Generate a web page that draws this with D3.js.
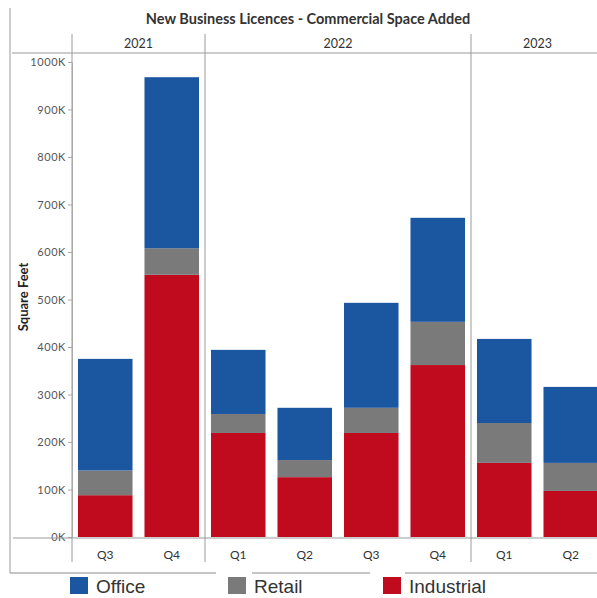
<!DOCTYPE html>
<html>
<head>
<meta charset="utf-8">
<style>
  body { margin: 0; background: #fff; }
  svg { display: block; }
</style>
</head>
<body>
<div id="chart"></div>
<script src="https://cdn.jsdelivr.net/npm/d3@7"></script>
<script>
// data (square feet, thousands)
var years = ['2021', '2022', '2023'];
var quarters = [
  {year: '2021', q: 'Q3'}, {year: '2021', q: 'Q4'},
  {year: '2022', q: 'Q1'}, {year: '2022', q: 'Q2'}, {year: '2022', q: 'Q3'}, {year: '2022', q: 'Q4'},
  {year: '2023', q: 'Q1'}, {year: '2023', q: 'Q2'}
];
var industrial = [88, 552, 219, 126, 219, 362, 156, 97];
var retail     = [52, 56, 40, 36, 53, 91, 84, 59];
var office     = [235, 360, 135, 110, 221, 219, 177, 160];
var seriesNames = ['Industrial', 'Retail', 'Office'];
var yTicks = [0, 100, 200, 300, 400, 500, 600, 700, 800, 900, 1000];

var width = 597, height = 598;
var colors = {Office: '#1b56a0', Retail: '#7a7a7a', Industrial: '#c00b1f'};
var chartFont = 'Lato, "Open Sans", sans-serif';

var rows = quarters.map(function(d, i){
  return {key: d.year + '-' + d.q, year: d.year, q: d.q,
          Industrial: industrial[i], Retail: retail[i], Office: office[i]};
});

var svg = d3.select('#chart').append('svg')
  .attr('width', width).attr('height', height);

var x = d3.scaleBand()
  .domain(rows.map(function(d){ return d.key; }))
  .range([72, 604])
  .paddingInner(0.18)
  .paddingOuter(0.09);

var y = d3.scaleLinear()
  .domain([0, 1000])
  .range([537, 62]);

var stack = d3.stack().keys(seriesNames)(rows);

// outer frame lines
svg.append('line')
  .attr('x1', 10).attr('x2', 10).attr('y1', 8).attr('y2', 573)
  .attr('stroke', '#9a9a9a');
[[10, 216], [252, 370], [405, 597]].forEach(function(s){
  svg.append('line')
    .attr('x1', s[0]).attr('x2', s[1]).attr('y1', 573).attr('y2', 573)
    .attr('stroke', '#8a8a8a');
});

// header line
svg.append('line')
  .attr('x1', 12).attr('x2', width).attr('y1', 53).attr('y2', 53)
  .attr('stroke', '#9a9a9a');

// year dividers
var yearStart = years.map(function(yr){
  var ks = rows.filter(function(d){ return d.year === yr; });
  var x0 = x(ks[0].key) - x.step() * x.paddingInner() / 2;
  var x1 = x(ks[ks.length - 1].key) + x.bandwidth() + x.step() * x.paddingInner() / 2;
  return {year: yr, x0: x0, x1: x1};
});
yearStart.forEach(function(d){
  svg.append('line')
    .attr('x1', d.x0).attr('x2', d.x0).attr('y1', 34).attr('y2', 562)
    .attr('stroke', '#9a9a9a');
  svg.append('text')
    .attr('x', (d.x0 + d.x1) / 2).attr('y', 48)
    .attr('text-anchor', 'middle')
    .style('font-family', chartFont).style('font-size', '12.5px')
    .style('fill', '#333')
    .text(d.year);
});

// y axis
var yAxis = svg.append('g')
  .attr('transform', 'translate(72,0)')
  .call(d3.axisLeft(y).tickValues(yTicks).tickSize(4).tickSizeOuter(0)
    .tickFormat(function(d){ return d + 'K'; }));
yAxis.select('.domain').attr('stroke', '#aaa');
yAxis.selectAll('.tick line').attr('stroke', '#aaa');
yAxis.selectAll('text')
  .style('font-family', chartFont).style('font-size', '11px')
  .style('letter-spacing', '0.6px')
  .style('fill', '#555').attr('x', -6);

// bars
svg.selectAll('g.series')
  .data(stack)
  .join('g')
  .attr('class', 'series')
  .attr('fill', function(s){ return colors[s.key]; })
  .selectAll('rect')
  .data(function(s){ return s; })
  .join('rect')
  .attr('x', function(d){ return x(d.data.key); })
  .attr('width', x.bandwidth())
  .attr('y', function(d){ return y(d[1]); })
  .attr('height', function(d){ return y(d[0]) - y(d[1]); });

// x baseline
svg.append('line')
  .attr('x1', 13).attr('x2', width).attr('y1', 538).attr('y2', 538)
  .attr('stroke', '#9a9a9a');

// quarter labels
svg.selectAll('text.qlab')
  .data(rows)
  .join('text')
  .attr('class', 'qlab')
  .attr('x', function(d){ return x(d.key) + x.bandwidth() / 2; })
  .attr('y', 559)
  .attr('text-anchor', 'middle')
  .style('font-family', chartFont).style('font-size', '12px')
  .style('fill', '#333')
  .text(function(d){ return d.q; });

// title
svg.append('text')
  .attr('x', 308).attr('y', 24)
  .attr('text-anchor', 'middle')
  .style('font-family', chartFont).style('font-size', '14.5px')
  .style('font-weight', 'bold').style('fill', '#333')
  .text('New Business Licences - Commercial Space Added');

// y title
svg.append('text')
  .attr('transform', 'translate(28,297) rotate(-90)')
  .attr('text-anchor', 'middle')
  .style('font-family', chartFont).style('font-size', '13px')
  .style('font-weight', 'bold').style('fill', '#222')
  .text('Square Feet');

// legend
var legendItems = [
  {name: 'Office', x: 70},
  {name: 'Retail', x: 228},
  {name: 'Industrial', x: 383}
];
var legend = svg.selectAll('g.legend')
  .data(legendItems)
  .join('g')
  .attr('class', 'legend')
  .attr('transform', function(d){ return 'translate(' + d.x + ',577)'; });
legend.append('rect')
  .attr('width', 18).attr('height', 17)
  .attr('fill', function(d){ return colors[d.name]; });
legend.append('text')
  .attr('x', 26).attr('y', 16)
  .style('font-family', '"Liberation Sans", Arial, sans-serif')
  .style('font-size', '19px').style('fill', '#333')
  .text(function(d){ return d.name; });
</script>
</body>
</html>
